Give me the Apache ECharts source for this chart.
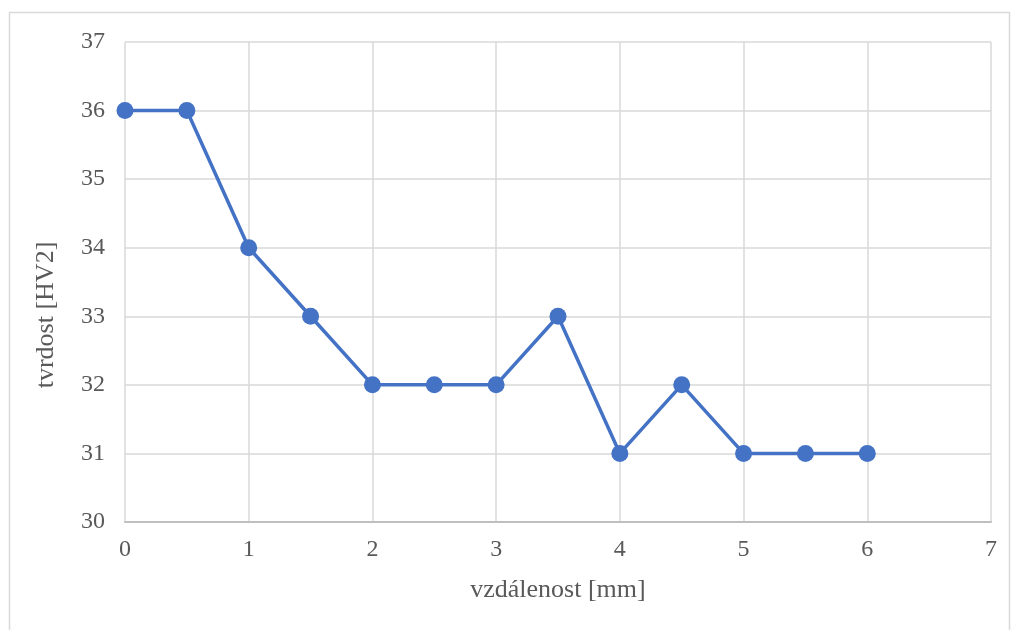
<!DOCTYPE html>
<html>
<head>
<meta charset="utf-8">
<script src="https://cdn.jsdelivr.net/npm/echarts@6/dist/echarts.min.js"></script>
<style>
  html, body { margin: 0; padding: 0; background: #fff; }
  #chart { width: 1013px; height: 630px; }
</style>
</head>
<body>
<div id="chart"></div>
<script>
// distance from surface [mm] and measured hardness
const distance = [0, 0.5, 1, 1.5, 2, 2.5, 3, 3.5, 4, 4.5, 5, 5.5, 6];
const hardness = [36, 36, 34, 33, 32, 32, 32, 33, 31, 32, 31, 31, 31];
const xTitle = 'vzdálenost [mm]';
const yTitle = 'tvrdost [HV2]';

const font = '"Liberation Serif", "Times New Roman", serif';
const points = distance.map((d, i) => [d, hardness[i]]);

const chart = echarts.init(document.getElementById('chart'), null, { renderer: 'canvas' });
chart.setOption({
  animation: false,
  backgroundColor: '#fff',
  graphic: [{
    type: 'rect',
    shape: { x: 9.5, y: 12.5, width: 1000, height: 640 },
    style: { fill: 'none', stroke: '#d9d9d9', lineWidth: 1.5 },
    silent: true
  }, {
    // vertical axis title
    type: 'text',
    x: 46, y: 315,
    rotation: Math.PI / 2,
    style: {
      text: yTitle,
      fontFamily: font, fontSize: 26, fill: '#595959',
      align: 'center', verticalAlign: 'middle'
    },
    silent: true
  }],
  grid: { left: 125, right: 22, top: 42, bottom: 108 },
  xAxis: {
    type: 'value', min: 0, max: 7, interval: 1,
    name: xTitle, nameLocation: 'middle', nameGap: 55,
    nameTextStyle: { fontFamily: font, fontSize: 26, color: '#595959' },
    axisLine: { show: true, lineStyle: { color: '#bfbfbf', width: 2 } },
    axisTick: { show: false },
    axisLabel: { fontFamily: font, fontSize: 24, color: '#595959', margin: 16 },
    splitLine: { show: true, lineStyle: { color: '#d9d9d9', width: 1.5 } }
  },
  yAxis: {
    type: 'value', min: 30, max: 37, interval: 1,
    axisLine: { show: false },
    axisTick: { show: false },
    axisLabel: { fontFamily: font, fontSize: 24, color: '#595959', margin: 20 },
    splitLine: { show: true, lineStyle: { color: '#d9d9d9', width: 1.5 } }
  },
  series: [{
    type: 'line',
    data: points,
    symbol: 'circle',
    symbolSize: 17,
    lineStyle: { color: '#4472C4', width: 3.5 },
    itemStyle: { color: '#4472C4' },
    z: 5
  }]
});
</script>
</body>
</html>
